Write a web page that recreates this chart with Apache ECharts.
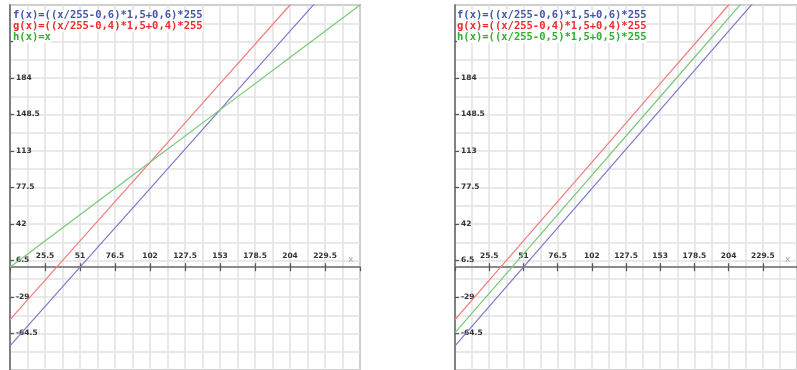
<!DOCTYPE html>
<html>
<head>
<meta charset="utf-8">
<script src="https://cdn.jsdelivr.net/npm/echarts@6/dist/echarts.min.js"></script>
<style>
  html, body { margin: 0; padding: 0; background: #fff; }
  #chart { width: 797px; height: 370px; }
</style>
</head>
<body>
<div id="chart"></div>
<script>
// x positions where the lines were read
const xs = [0, 51, 102, 153, 204, 255];
// left panel
const leftF = [-76.5, 0, 76.5, 153, 229.5, 306];
const leftG = [-51, 25.5, 102, 178.5, 255, 331.5];
const leftH = [0, 51, 102, 153, 204, 255];
// right panel
const rightF = [-76.5, 0, 76.5, 153, 229.5, 306];
const rightG = [-51, 25.5, 102, 178.5, 255, 331.5];
const rightH = [-63.75, 12.75, 89.25, 165.75, 242.25, 318.75];

const leftNames = ['f(x)=((x/255-0,6)*1,5+0,6)*255', 'g(x)=((x/255-0,4)*1,5+0,4)*255', 'h(x)=x'];
const rightNames = ['f(x)=((x/255-0,6)*1,5+0,6)*255', 'g(x)=((x/255-0,4)*1,5+0,4)*255', 'h(x)=((x/255-0,5)*1,5+0,5)*255'];

// axis ranges, labelled step (grid lines at half steps)
const xMin = 0, xMax = 255, xStep = 25.5;
const yMin = -100, yMax = 255, yStep = 35.5;

const lineColors = ['#7a7acc', '#f27c7c', '#78c878'];
const textColors = ['#4455aa', '#ee2a2a', '#2fae2f'];

const panelLeft = [10, 455];
const plotTop = 5, plotW = 350, plotH = 365;
// height of the part above y = 0, where the x labels sit
const upperH = plotH * yMax / (yMax - yMin);

const chart = echarts.init(document.getElementById('chart'));

const pair = (vals) => xs.map((x, i) => [x, vals[i]]);

const labelFont = { fontFamily: 'DejaVu Sans', fontWeight: 'bold', fontSize: 7.5, color: '#333' };
const gridLine = { show: true, lineStyle: { color: '#e2e2e2', width: 1.5 } };
const tickStyle = { color: '#555', width: 1.2 };

const mainX = (gi) => ({
    gridIndex: gi,
    type: 'value',
    min: xMin, max: xMax, interval: xStep,
    axisLine: { onZero: true, onZeroAxisIndex: gi, lineStyle: { color: '#666', width: 1.5 } },
    axisTick: { show: true, length: 4, lineStyle: tickStyle },
    axisLabel: { show: false },
    splitLine: gridLine,
    minorTick: { show: false, splitNumber: 2 },
    minorSplitLine: gridLine,
    name: 'x',
    nameLocation: 'end',
    nameGap: -12,
    nameTextStyle: { color: '#aaa', fontSize: 9, fontFamily: 'DejaVu Sans', verticalAlign: 'bottom', padding: [0, 0, 3, 0] }
});

// axis of the upper overlay grid: its bottom edge is y = 0, it draws labels and upper ticks
const labelX = (gi) => ({
    gridIndex: gi,
    type: 'value',
    min: xMin, max: xMax, interval: xStep,
    axisLine: { show: false, onZero: false },
    axisTick: { show: true, inside: true, length: 4, lineStyle: tickStyle },
    axisLabel: { ...labelFont, inside: true, margin: 7, showMinLabel: false, showMaxLabel: false },
    splitLine: { show: false }
});

const yAx = (gi) => ({
    gridIndex: gi,
    type: 'value',
    min: yMin, max: yMax, interval: yStep,
    axisLine: { show: true, onZero: true, lineStyle: { color: '#666', width: 1.5 } },
    axisTick: { show: true, inside: true, length: 4, lineStyle: tickStyle },
    axisLabel: { ...labelFont, inside: true, margin: 6, showMinLabel: false, showMaxLabel: false },
    splitLine: gridLine,
    minorTick: { show: false, splitNumber: 2 },
    minorSplitLine: gridLine
});

const hiddenY = (gi) => ({ gridIndex: gi, type: 'value', show: false, min: 0, max: 1 });

const legendOf = (names, left) => ({
    orient: 'vertical',
    left: left, top: 10,
    padding: 0,
    itemGap: 0,
    icon: 'none',
    itemWidth: 0, itemHeight: 1,
    selectedMode: false,
    textStyle: { fontFamily: 'DejaVu Sans Mono', fontWeight: 'bold', fontSize: 10.5, lineHeight: 11, backgroundColor: '#fff' },
    data: names.map((n, i) => ({ name: n, textStyle: { color: textColors[i] } }))
});

const lineSeries = (name, vals, ci, gi) => ({
    name: name,
    type: 'line',
    xAxisIndex: gi,
    yAxisIndex: gi,
    data: pair(vals),
    showSymbol: false,
    clip: true,
    silent: true,
    lineStyle: { color: lineColors[ci], width: 1.2 },
    itemStyle: { color: lineColors[ci] }
});

const option = {
    animation: false,
    backgroundColor: '#fff',
    grid: [
        { left: panelLeft[0], top: plotTop, width: plotW, height: plotH, show: true, borderColor: '#777', borderWidth: 1.5 },
        { left: panelLeft[1], top: plotTop, width: plotW, height: plotH, show: true, borderColor: '#777', borderWidth: 1.5 },
        { left: panelLeft[0], top: plotTop, width: plotW, height: upperH, show: false },
        { left: panelLeft[1], top: plotTop, width: plotW, height: upperH, show: false }
    ],
    legend: [legendOf(leftNames, 8), legendOf(rightNames, 452)],
    xAxis: [mainX(0), mainX(1), labelX(2), labelX(3)],
    yAxis: [yAx(0), yAx(1), hiddenY(2), hiddenY(3)],
    series: [
        lineSeries(leftNames[0], leftF, 0, 0),
        lineSeries(leftNames[1], leftG, 1, 0),
        lineSeries(leftNames[2], leftH, 2, 0),
        lineSeries(rightNames[0], rightF, 0, 1),
        lineSeries(rightNames[1], rightG, 1, 1),
        lineSeries(rightNames[2], rightH, 2, 1)
    ]
};
chart.setOption(option);
</script>
</body>
</html>
